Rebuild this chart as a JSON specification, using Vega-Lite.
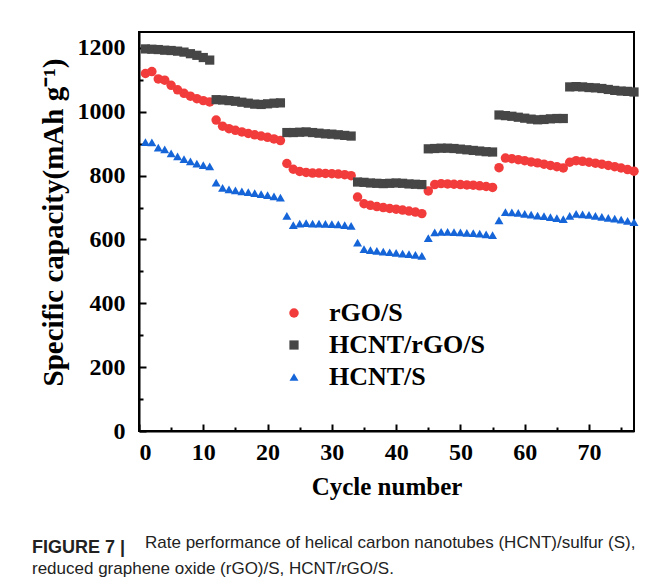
{
  "$schema": "https://vega.github.io/schema/vega-lite/v6.json",
  "background": "white",
  "padding": {"left": 32, "top": 31, "right": 26, "bottom": 6},
  "title": {
    "text": "FIGURE 7 |",
    "subtitle": "reduced graphene oxide (rGO)/S, HCNT/rGO/S.",
    "orient": "bottom",
    "anchor": "start",
    "font": "Liberation Sans",
    "fontSize": 18,
    "fontWeight": "bold",
    "color": "#222222",
    "subtitleFont": "Liberation Sans",
    "subtitleFontSize": 17,
    "subtitleColor": "#222222",
    "subtitlePadding": 4,
    "offset": 4,
    "dx": -6,
    "dy": -17
  },
  "vconcat": [
    {
      "title": {
        "text": "Rate performance of helical carbon nanotubes (HCNT)/sulfur (S),",
        "orient": "bottom",
        "anchor": "start",
        "font": "Liberation Sans",
        "fontSize": 17,
        "fontWeight": "normal",
        "color": "#222222",
        "dx": 106,
        "offset": 36
      },
      "width": 495,
      "height": 399,
      "data": {
        "values": [
          {"c":1,"v":1120,"s":"rGO/S"},{"c":2,"v":1126,"s":"rGO/S"},{"c":3,"v":1103,"s":"rGO/S"},{"c":4,"v":1099,"s":"rGO/S"},{"c":5,"v":1083,"s":"rGO/S"},{"c":6,"v":1069,"s":"rGO/S"},{"c":7,"v":1058,"s":"rGO/S"},{"c":8,"v":1049,"s":"rGO/S"},{"c":9,"v":1041,"s":"rGO/S"},{"c":10,"v":1035,"s":"rGO/S"},{"c":11,"v":1031,"s":"rGO/S"},
          {"c":12,"v":974,"s":"rGO/S"},{"c":13,"v":955,"s":"rGO/S"},{"c":14,"v":947,"s":"rGO/S"},{"c":15,"v":942,"s":"rGO/S"},{"c":16,"v":937,"s":"rGO/S"},{"c":17,"v":932,"s":"rGO/S"},{"c":18,"v":928,"s":"rGO/S"},{"c":19,"v":924,"s":"rGO/S"},{"c":20,"v":920,"s":"rGO/S"},{"c":21,"v":915,"s":"rGO/S"},{"c":22,"v":910,"s":"rGO/S"},
          {"c":23,"v":838,"s":"rGO/S"},{"c":24,"v":820,"s":"rGO/S"},{"c":25,"v":813,"s":"rGO/S"},{"c":26,"v":810,"s":"rGO/S"},{"c":27,"v":808,"s":"rGO/S"},{"c":28,"v":808,"s":"rGO/S"},{"c":29,"v":807,"s":"rGO/S"},{"c":30,"v":806,"s":"rGO/S"},{"c":31,"v":805,"s":"rGO/S"},{"c":32,"v":803,"s":"rGO/S"},{"c":33,"v":800,"s":"rGO/S"},
          {"c":34,"v":733,"s":"rGO/S"},{"c":35,"v":712,"s":"rGO/S"},{"c":36,"v":707,"s":"rGO/S"},{"c":37,"v":703,"s":"rGO/S"},{"c":38,"v":700,"s":"rGO/S"},{"c":39,"v":697,"s":"rGO/S"},{"c":40,"v":695,"s":"rGO/S"},{"c":41,"v":692,"s":"rGO/S"},{"c":42,"v":689,"s":"rGO/S"},{"c":43,"v":686,"s":"rGO/S"},{"c":44,"v":681,"s":"rGO/S"},
          {"c":45,"v":752,"s":"rGO/S"},{"c":46,"v":772,"s":"rGO/S"},{"c":47,"v":775,"s":"rGO/S"},{"c":48,"v":774,"s":"rGO/S"},{"c":49,"v":773,"s":"rGO/S"},{"c":50,"v":772,"s":"rGO/S"},{"c":51,"v":771,"s":"rGO/S"},{"c":52,"v":770,"s":"rGO/S"},{"c":53,"v":768,"s":"rGO/S"},{"c":54,"v":766,"s":"rGO/S"},{"c":55,"v":763,"s":"rGO/S"},
          {"c":56,"v":825,"s":"rGO/S"},{"c":57,"v":855,"s":"rGO/S"},{"c":58,"v":853,"s":"rGO/S"},{"c":59,"v":850,"s":"rGO/S"},{"c":60,"v":847,"s":"rGO/S"},{"c":61,"v":843,"s":"rGO/S"},{"c":62,"v":840,"s":"rGO/S"},{"c":63,"v":836,"s":"rGO/S"},{"c":64,"v":832,"s":"rGO/S"},{"c":65,"v":828,"s":"rGO/S"},{"c":66,"v":824,"s":"rGO/S"},
          {"c":67,"v":842,"s":"rGO/S"},{"c":68,"v":847,"s":"rGO/S"},{"c":69,"v":845,"s":"rGO/S"},{"c":70,"v":842,"s":"rGO/S"},{"c":71,"v":839,"s":"rGO/S"},{"c":72,"v":836,"s":"rGO/S"},{"c":73,"v":832,"s":"rGO/S"},{"c":74,"v":828,"s":"rGO/S"},{"c":75,"v":824,"s":"rGO/S"},{"c":76,"v":819,"s":"rGO/S"},{"c":77,"v":814,"s":"rGO/S"},
          {"c":1,"v":1197,"s":"HCNT/rGO/S"},{"c":2,"v":1196,"s":"HCNT/rGO/S"},{"c":3,"v":1195,"s":"HCNT/rGO/S"},{"c":4,"v":1193,"s":"HCNT/rGO/S"},{"c":5,"v":1192,"s":"HCNT/rGO/S"},{"c":6,"v":1190,"s":"HCNT/rGO/S"},{"c":7,"v":1187,"s":"HCNT/rGO/S"},{"c":8,"v":1182,"s":"HCNT/rGO/S"},{"c":9,"v":1177,"s":"HCNT/rGO/S"},{"c":10,"v":1170,"s":"HCNT/rGO/S"},{"c":11,"v":1162,"s":"HCNT/rGO/S"},
          {"c":12,"v":1038,"s":"HCNT/rGO/S"},{"c":13,"v":1037,"s":"HCNT/rGO/S"},{"c":14,"v":1035,"s":"HCNT/rGO/S"},{"c":15,"v":1033,"s":"HCNT/rGO/S"},{"c":16,"v":1030,"s":"HCNT/rGO/S"},{"c":17,"v":1027,"s":"HCNT/rGO/S"},{"c":18,"v":1024,"s":"HCNT/rGO/S"},{"c":19,"v":1023,"s":"HCNT/rGO/S"},{"c":20,"v":1025,"s":"HCNT/rGO/S"},{"c":21,"v":1027,"s":"HCNT/rGO/S"},{"c":22,"v":1028,"s":"HCNT/rGO/S"},
          {"c":23,"v":935,"s":"HCNT/rGO/S"},{"c":24,"v":935,"s":"HCNT/rGO/S"},{"c":25,"v":936,"s":"HCNT/rGO/S"},{"c":26,"v":937,"s":"HCNT/rGO/S"},{"c":27,"v":935,"s":"HCNT/rGO/S"},{"c":28,"v":933,"s":"HCNT/rGO/S"},{"c":29,"v":931,"s":"HCNT/rGO/S"},{"c":30,"v":930,"s":"HCNT/rGO/S"},{"c":31,"v":928,"s":"HCNT/rGO/S"},{"c":32,"v":926,"s":"HCNT/rGO/S"},{"c":33,"v":924,"s":"HCNT/rGO/S"},
          {"c":34,"v":780,"s":"HCNT/rGO/S"},{"c":35,"v":779,"s":"HCNT/rGO/S"},{"c":36,"v":777,"s":"HCNT/rGO/S"},{"c":37,"v":776,"s":"HCNT/rGO/S"},{"c":38,"v":775,"s":"HCNT/rGO/S"},{"c":39,"v":776,"s":"HCNT/rGO/S"},{"c":40,"v":777,"s":"HCNT/rGO/S"},{"c":41,"v":776,"s":"HCNT/rGO/S"},{"c":42,"v":774,"s":"HCNT/rGO/S"},{"c":43,"v":773,"s":"HCNT/rGO/S"},{"c":44,"v":772,"s":"HCNT/rGO/S"},
          {"c":45,"v":884,"s":"HCNT/rGO/S"},{"c":46,"v":885,"s":"HCNT/rGO/S"},{"c":47,"v":886,"s":"HCNT/rGO/S"},{"c":48,"v":886,"s":"HCNT/rGO/S"},{"c":49,"v":885,"s":"HCNT/rGO/S"},{"c":50,"v":883,"s":"HCNT/rGO/S"},{"c":51,"v":881,"s":"HCNT/rGO/S"},{"c":52,"v":879,"s":"HCNT/rGO/S"},{"c":53,"v":877,"s":"HCNT/rGO/S"},{"c":54,"v":875,"s":"HCNT/rGO/S"},{"c":55,"v":874,"s":"HCNT/rGO/S"},
          {"c":56,"v":990,"s":"HCNT/rGO/S"},{"c":57,"v":988,"s":"HCNT/rGO/S"},{"c":58,"v":986,"s":"HCNT/rGO/S"},{"c":59,"v":983,"s":"HCNT/rGO/S"},{"c":60,"v":980,"s":"HCNT/rGO/S"},{"c":61,"v":977,"s":"HCNT/rGO/S"},{"c":62,"v":975,"s":"HCNT/rGO/S"},{"c":63,"v":976,"s":"HCNT/rGO/S"},{"c":64,"v":978,"s":"HCNT/rGO/S"},{"c":65,"v":979,"s":"HCNT/rGO/S"},{"c":66,"v":979,"s":"HCNT/rGO/S"},
          {"c":67,"v":1078,"s":"HCNT/rGO/S"},{"c":68,"v":1079,"s":"HCNT/rGO/S"},{"c":69,"v":1078,"s":"HCNT/rGO/S"},{"c":70,"v":1076,"s":"HCNT/rGO/S"},{"c":71,"v":1075,"s":"HCNT/rGO/S"},{"c":72,"v":1073,"s":"HCNT/rGO/S"},{"c":73,"v":1070,"s":"HCNT/rGO/S"},{"c":74,"v":1067,"s":"HCNT/rGO/S"},{"c":75,"v":1065,"s":"HCNT/rGO/S"},{"c":76,"v":1064,"s":"HCNT/rGO/S"},{"c":77,"v":1062,"s":"HCNT/rGO/S"},
          {"c":1,"v":905,"s":"HCNT/S"},{"c":2,"v":904,"s":"HCNT/S"},{"c":3,"v":888,"s":"HCNT/S"},{"c":4,"v":882,"s":"HCNT/S"},{"c":5,"v":870,"s":"HCNT/S"},{"c":6,"v":860,"s":"HCNT/S"},{"c":7,"v":852,"s":"HCNT/S"},{"c":8,"v":845,"s":"HCNT/S"},{"c":9,"v":838,"s":"HCNT/S"},{"c":10,"v":833,"s":"HCNT/S"},{"c":11,"v":829,"s":"HCNT/S"},
          {"c":12,"v":778,"s":"HCNT/S"},{"c":13,"v":762,"s":"HCNT/S"},{"c":14,"v":757,"s":"HCNT/S"},{"c":15,"v":754,"s":"HCNT/S"},{"c":16,"v":751,"s":"HCNT/S"},{"c":17,"v":748,"s":"HCNT/S"},{"c":18,"v":745,"s":"HCNT/S"},{"c":19,"v":742,"s":"HCNT/S"},{"c":20,"v":739,"s":"HCNT/S"},{"c":21,"v":735,"s":"HCNT/S"},{"c":22,"v":731,"s":"HCNT/S"},
          {"c":23,"v":674,"s":"HCNT/S"},{"c":24,"v":645,"s":"HCNT/S"},{"c":25,"v":650,"s":"HCNT/S"},{"c":26,"v":651,"s":"HCNT/S"},{"c":27,"v":650,"s":"HCNT/S"},{"c":28,"v":650,"s":"HCNT/S"},{"c":29,"v":649,"s":"HCNT/S"},{"c":30,"v":648,"s":"HCNT/S"},{"c":31,"v":647,"s":"HCNT/S"},{"c":32,"v":645,"s":"HCNT/S"},{"c":33,"v":643,"s":"HCNT/S"},
          {"c":34,"v":590,"s":"HCNT/S"},{"c":35,"v":570,"s":"HCNT/S"},{"c":36,"v":567,"s":"HCNT/S"},{"c":37,"v":564,"s":"HCNT/S"},{"c":38,"v":562,"s":"HCNT/S"},{"c":39,"v":560,"s":"HCNT/S"},{"c":40,"v":558,"s":"HCNT/S"},{"c":41,"v":556,"s":"HCNT/S"},{"c":42,"v":554,"s":"HCNT/S"},{"c":43,"v":552,"s":"HCNT/S"},{"c":44,"v":549,"s":"HCNT/S"},
          {"c":45,"v":604,"s":"HCNT/S"},{"c":46,"v":622,"s":"HCNT/S"},{"c":47,"v":624,"s":"HCNT/S"},{"c":48,"v":624,"s":"HCNT/S"},{"c":49,"v":623,"s":"HCNT/S"},{"c":50,"v":622,"s":"HCNT/S"},{"c":51,"v":621,"s":"HCNT/S"},{"c":52,"v":620,"s":"HCNT/S"},{"c":53,"v":618,"s":"HCNT/S"},{"c":54,"v":616,"s":"HCNT/S"},{"c":55,"v":614,"s":"HCNT/S"},
          {"c":56,"v":660,"s":"HCNT/S"},{"c":57,"v":686,"s":"HCNT/S"},{"c":58,"v":685,"s":"HCNT/S"},{"c":59,"v":683,"s":"HCNT/S"},{"c":60,"v":680,"s":"HCNT/S"},{"c":61,"v":678,"s":"HCNT/S"},{"c":62,"v":675,"s":"HCNT/S"},{"c":63,"v":673,"s":"HCNT/S"},{"c":64,"v":670,"s":"HCNT/S"},{"c":65,"v":667,"s":"HCNT/S"},{"c":66,"v":664,"s":"HCNT/S"},
          {"c":67,"v":674,"s":"HCNT/S"},{"c":68,"v":680,"s":"HCNT/S"},{"c":69,"v":679,"s":"HCNT/S"},{"c":70,"v":677,"s":"HCNT/S"},{"c":71,"v":674,"s":"HCNT/S"},{"c":72,"v":671,"s":"HCNT/S"},{"c":73,"v":668,"s":"HCNT/S"},{"c":74,"v":665,"s":"HCNT/S"},{"c":75,"v":662,"s":"HCNT/S"},{"c":76,"v":658,"s":"HCNT/S"},{"c":77,"v":654,"s":"HCNT/S"}
        ]
      },
      "resolve": {"axis": {"x": "independent", "y": "independent"}},
      "layer": [
        {
          "mark": {"type": "point", "filled": true, "opacity": 1},
          "encoding": {
            "x": {
              "field": "c", "type": "quantitative",
              "scale": {"domain": [0, 77], "nice": false, "zero": false},
              "axis": {"orient": "bottom", "values": [0, 10, 20, 30, 40, 50, 60, 70], "format": "d", "tickSize": -7, "labelPadding": 16, "title": "Cycle number", "titlePadding": 10, "titleFontSize": 25}
            },
            "y": {
              "field": "v", "type": "quantitative",
              "scale": {"domain": [0, 1250], "nice": false},
              "axis": {"orient": "left", "values": [0, 200, 400, 600, 800, 1000, 1200], "format": "d", "tickSize": -7, "labelPadding": 21, "title": "Specific capacity(mAh g⁻¹)", "titlePadding": 9, "titleFontSize": 29, "titleY": 190}
            },
            "color": {
              "field": "s", "type": "nominal", "title": null,
              "scale": {"domain": ["rGO/S", "HCNT/rGO/S", "HCNT/S"], "range": ["#f23c3c", "#464646", "#1565d8"]}
            },
            "shape": {
              "field": "s", "type": "nominal", "title": null,
              "scale": {"domain": ["rGO/S", "HCNT/rGO/S", "HCNT/S"], "range": ["circle", "square", "triangle-up"]}
            },
            "size": {
              "field": "s", "type": "nominal", "title": null,
              "scale": {"domain": ["rGO/S", "HCNT/rGO/S", "HCNT/S"], "range": [90, 80, 115]}
            }
          }
        },
        {
          "mark": {"type": "point", "opacity": 0},
          "encoding": {
            "x": {
              "field": "c", "type": "quantitative",
              "axis": {"orient": "bottom", "values": [5, 15, 25, 35, 45, 55, 65, 75], "tickSize": -4, "labels": false, "domain": false, "title": null}
            },
            "y": {
              "field": "v", "type": "quantitative",
              "axis": {"orient": "left", "values": [100, 300, 500, 700, 900, 1100], "tickSize": -4, "labels": false, "domain": false, "title": null}
            }
          }
        }
      ]
    }
  ],
  "config": {
    "font": "Liberation Serif",
    "view": {"stroke": "black", "strokeWidth": 2},
    "axis": {
      "grid": false,
      "domainColor": "black",
      "domainWidth": 2,
      "tickColor": "black",
      "tickWidth": 2,
      "labelFont": "Liberation Serif",
      "labelFontSize": 24,
      "labelFontWeight": "bold",
      "labelColor": "black",
      "titleFont": "Liberation Serif",
      "titleFontSize": 27,
      "titleFontWeight": "bold",
      "titleColor": "black"
    },
    "legend": {
      "orient": "none",
      "legendX": 142,
      "legendY": 268,
      "padding": 0,
      "labelFont": "Liberation Serif",
      "labelFontSize": 26,
      "labelFontWeight": "bold",
      "labelColor": "black",
      "labelOffset": 22,
      "rowPadding": 6,
      "symbolStrokeWidth": 0
    }
  }
}
